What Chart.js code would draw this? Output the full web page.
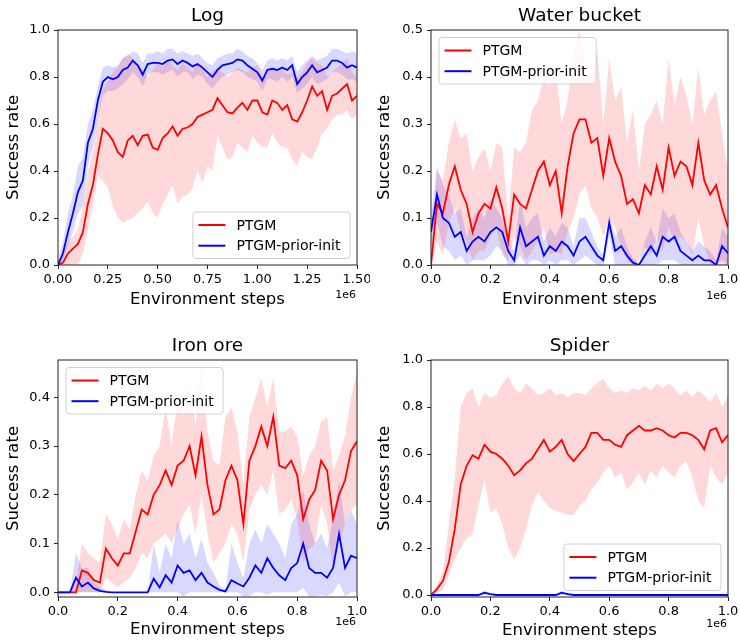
<!DOCTYPE html>
<html>
<head>
<meta charset="utf-8">
<script src="https://cdn.jsdelivr.net/npm/chart.js@4/dist/chart.umd.min.js"></script>
<style>
  html, body { margin: 0; padding: 0; background: #fff; }
  #figure { position: relative; width: 740px; height: 641px; overflow: hidden; }
  #figure canvas { position: absolute; }
</style>
</head>
<body>
<div id="figure">
  <canvas id="chart-log" width="370" height="320" style="left:0;top:0"></canvas>
  <canvas id="chart-water" width="370" height="320" style="left:370px;top:0"></canvas>
  <canvas id="chart-iron" width="370" height="321" style="left:0;top:320px"></canvas>
  <canvas id="chart-spider" width="370" height="321" style="left:370px;top:320px"></canvas>
</div>
<script>
// ---- data (x in units of 1e6 environment steps) ----
const LOG_STEPS = [0, 0.025, 0.05, 0.075, 0.1, 0.125, 0.15, 0.175, 0.2, 0.225,
  0.25, 0.275, 0.3, 0.325, 0.35, 0.375, 0.4, 0.425, 0.45, 0.475,
  0.5, 0.525, 0.55, 0.575, 0.6, 0.625, 0.65, 0.675, 0.7, 0.725,
  0.75, 0.775, 0.8, 0.825, 0.85, 0.875, 0.9, 0.925, 0.95, 0.975,
  1.0, 1.025, 1.05, 1.075, 1.1, 1.125, 1.15, 1.175, 1.2, 1.225,
  1.25, 1.275, 1.3, 1.325, 1.35, 1.375, 1.4, 1.425, 1.45, 1.475, 1.5];

const LOG_PTGM = [0, 0.01, 0.05, 0.07, 0.09, 0.14, 0.26, 0.34, 0.47, 0.58,
  0.56, 0.53, 0.48, 0.46, 0.53, 0.55, 0.51, 0.55, 0.555, 0.5,
  0.49, 0.54, 0.56, 0.59, 0.55, 0.58, 0.585, 0.6, 0.63, 0.64,
  0.65, 0.66, 0.71, 0.68, 0.65, 0.645, 0.67, 0.69, 0.66, 0.7,
  0.7, 0.65, 0.64, 0.7, 0.69, 0.66, 0.68, 0.62, 0.61, 0.65,
  0.7, 0.76, 0.72, 0.74, 0.66, 0.72, 0.73, 0.75, 0.77, 0.7, 0.72];
const LOG_PTGM_LO = [0, 0, 0, 0, 0, 0.05, 0.15, 0.25, 0.38, 0.36,
  0.33, 0.25, 0.2, 0.18, 0.19, 0.2, 0.22, 0.24, 0.27, 0.22,
  0.2, 0.26, 0.3, 0.34, 0.26, 0.29, 0.3, 0.33, 0.4, 0.35,
  0.42, 0.4, 0.55, 0.5, 0.45, 0.46, 0.52, 0.5, 0.48, 0.55,
  0.52, 0.5, 0.5, 0.56, 0.52, 0.5, 0.5, 0.45, 0.42, 0.48,
  0.46, 0.45, 0.5, 0.56, 0.58, 0.62, 0.64, 0.64, 0.66, 0.62, 0.64];
const LOG_PTGM_HI = [0.02, 0.05, 0.1, 0.12, 0.15, 0.25, 0.4, 0.48, 0.63, 0.75,
  0.78, 0.82, 0.84, 0.88, 0.9, 0.88, 0.85, 0.83, 0.8, 0.83,
  0.86, 0.84, 0.87, 0.85, 0.83, 0.86, 0.84, 0.82, 0.86, 0.84,
  0.8, 0.82, 0.84, 0.82, 0.8, 0.82, 0.84, 0.83, 0.82, 0.84,
  0.85, 0.8, 0.82, 0.84, 0.82, 0.83, 0.81, 0.82, 0.8, 0.82,
  0.86, 0.88, 0.86, 0.85, 0.8, 0.82, 0.84, 0.86, 0.88, 0.82, 0.8];
const LOG_PRIOR = [0, 0.05, 0.14, 0.22, 0.31, 0.36, 0.52, 0.58, 0.7, 0.78,
  0.8, 0.79, 0.8, 0.83, 0.84, 0.87, 0.85, 0.81, 0.855, 0.86,
  0.86, 0.855, 0.87, 0.875, 0.855, 0.87, 0.86, 0.845, 0.855, 0.84,
  0.82, 0.8, 0.83, 0.85, 0.855, 0.86, 0.875, 0.87, 0.85, 0.835,
  0.82, 0.785, 0.83, 0.835, 0.83, 0.84, 0.83, 0.85, 0.77, 0.8,
  0.82, 0.85, 0.82, 0.83, 0.84, 0.87, 0.87, 0.86, 0.84, 0.85, 0.84];
const LOG_PRIOR_LO = [0, 0.02, 0.08, 0.14, 0.22, 0.25, 0.42, 0.5, 0.62, 0.72,
  0.74, 0.74, 0.75, 0.77, 0.79, 0.82, 0.8, 0.76, 0.81, 0.82,
  0.82, 0.81, 0.82, 0.83, 0.8, 0.82, 0.82, 0.79, 0.81, 0.8,
  0.77, 0.75, 0.78, 0.8, 0.81, 0.82, 0.83, 0.82, 0.8, 0.79,
  0.78, 0.74, 0.79, 0.79, 0.78, 0.8, 0.78, 0.8, 0.73, 0.75,
  0.77, 0.8, 0.77, 0.78, 0.79, 0.82, 0.82, 0.81, 0.79, 0.79, 0.78];
const LOG_PRIOR_HI = [0.02, 0.1, 0.22, 0.3, 0.42, 0.46, 0.6, 0.66, 0.76, 0.84,
  0.85, 0.84, 0.85, 0.88, 0.89, 0.91, 0.9, 0.86, 0.9, 0.9,
  0.91, 0.9, 0.92, 0.92, 0.9, 0.91, 0.9, 0.89, 0.9, 0.88,
  0.86, 0.85, 0.88, 0.89, 0.9, 0.9, 0.92, 0.91, 0.89, 0.88,
  0.86, 0.83, 0.87, 0.88, 0.87, 0.88, 0.87, 0.89, 0.82, 0.85,
  0.87, 0.89, 0.87, 0.88, 0.89, 0.92, 0.92, 0.91, 0.9, 0.91, 0.9];

const STEPS = [0, 0.02, 0.04, 0.06, 0.08, 0.1, 0.12, 0.14, 0.16, 0.18,
  0.2, 0.22, 0.24, 0.26, 0.28, 0.3, 0.32, 0.34, 0.36, 0.38,
  0.4, 0.42, 0.44, 0.46, 0.48, 0.5, 0.52, 0.54, 0.56, 0.58,
  0.6, 0.62, 0.64, 0.66, 0.68, 0.7, 0.72, 0.74, 0.76, 0.78,
  0.8, 0.82, 0.84, 0.86, 0.88, 0.9, 0.92, 0.94, 0.96, 0.98, 1.0];

const WATER_PTGM = [0, 0.13, 0.11, 0.17, 0.21, 0.16, 0.13, 0.07, 0.11, 0.13,
  0.12, 0.165, 0.12, 0.05, 0.15, 0.13, 0.12, 0.16, 0.2, 0.22,
  0.17, 0.2, 0.11, 0.21, 0.28, 0.31, 0.31, 0.26, 0.27, 0.19,
  0.27, 0.22, 0.19, 0.13, 0.14, 0.11, 0.17, 0.15, 0.21, 0.16,
  0.25, 0.19, 0.22, 0.21, 0.17, 0.26, 0.18, 0.15, 0.17, 0.12, 0.08];
const WATER_PTGM_LO = [0, 0.05, 0.02, 0.09, 0.12, 0.07, 0.05, 0.01, 0.03, 0.03,
  0.06, 0.08, 0.02, 0.01, 0.06, 0.04, 0.01, 0.03, 0.05, 0.08,
  0.02, 0.03, 0.02, 0.07, 0.1, 0.15, 0.17, 0.12, 0.1, 0.06,
  0.1, 0.08, 0.04, 0.01, 0, 0.01, 0.04, 0.02, 0.06, 0.03,
  0.08, 0.05, 0.06, 0.05, 0.02, 0.1, 0.04, 0, 0, 0, 0];
const WATER_PTGM_HI = [0.02, 0.2, 0.18, 0.26, 0.31, 0.27, 0.28, 0.2, 0.23, 0.25,
  0.2, 0.26, 0.25, 0.1, 0.25, 0.24, 0.26, 0.33, 0.35, 0.4,
  0.38, 0.42, 0.3, 0.35, 0.45, 0.5, 0.43, 0.39, 0.46, 0.3,
  0.44, 0.35, 0.38, 0.26, 0.33, 0.2, 0.3, 0.32, 0.35, 0.3,
  0.44, 0.34, 0.4, 0.36, 0.3, 0.42, 0.32, 0.35, 0.37, 0.28, 0.2];
const WATER_PRIOR = [0.07, 0.15, 0.1, 0.09, 0.06, 0.07, 0.03, 0.05, 0.06, 0.05,
  0.07, 0.08, 0.07, 0.03, 0.01, 0.08, 0.04, 0.05, 0.06, 0.02,
  0.04, 0.03, 0.05, 0.04, 0.02, 0.05, 0.06, 0.04, 0.02, 0.01,
  0.09, 0.03, 0.04, 0.02, 0.005, 0, 0.02, 0.04, 0.02, 0.06,
  0.05, 0.06, 0.03, 0.02, 0.01, 0.02, 0.01, 0.01, 0, 0.04, 0.025];
const WATER_PRIOR_LO = [0.04, 0.09, 0.04, 0.03, 0.01, 0.02, 0, 0.01, 0.01, 0.01,
  0.02, 0.04, 0.03, 0, 0, 0.02, 0, 0.01, 0.01, 0,
  0.01, 0, 0.01, 0.01, 0, 0.01, 0.02, 0.01, 0, 0,
  0.06, 0, 0, 0, 0, 0, 0, 0, 0, 0.01,
  0.01, 0.01, 0, 0, 0, 0, 0, 0, 0, 0.01, 0];
const WATER_PRIOR_HI = [0.1, 0.21, 0.17, 0.15, 0.11, 0.12, 0.06, 0.1, 0.12, 0.1,
  0.14, 0.12, 0.1, 0.05, 0.03, 0.14, 0.08, 0.1, 0.11, 0.05,
  0.08, 0.06, 0.09, 0.08, 0.04, 0.1, 0.1, 0.07, 0.04, 0.02,
  0.11, 0.06, 0.08, 0.04, 0.015, 0.005, 0.05, 0.08, 0.05, 0.12,
  0.1, 0.11, 0.07, 0.05, 0.03, 0.05, 0.04, 0.03, 0.01, 0.08, 0.06];

const IRON_PTGM = [0, 0, 0, 0, 0.045, 0.04, 0.025, 0.02, 0.09, 0.07,
  0.055, 0.08, 0.08, 0.125, 0.17, 0.16, 0.2, 0.22, 0.25, 0.22,
  0.26, 0.27, 0.3, 0.24, 0.32, 0.22, 0.16, 0.17, 0.23, 0.26,
  0.23, 0.14, 0.27, 0.3, 0.34, 0.3, 0.36, 0.26, 0.255, 0.27,
  0.24, 0.15, 0.19, 0.21, 0.27, 0.25, 0.15, 0.2, 0.23, 0.29, 0.31];
const IRON_PTGM_LO = [0, 0, 0, 0, 0, 0, 0, 0, 0.03, 0.02,
  0.01, 0.02, 0.03, 0.05, 0.08, 0.07, 0.1, 0.11, 0.12, 0.1,
  0.13, 0.16, 0.18, 0.12, 0.2, 0.12, 0.06, 0.08, 0.1, 0.14,
  0.12, 0.06, 0.17, 0.2, 0.22, 0.2, 0.25, 0.16, 0.17, 0.19,
  0.15, 0.06, 0.09, 0.1, 0.18, 0.14, 0.05, 0.1, 0.14, 0.17, 0.18];
const IRON_PTGM_HI = [0, 0, 0, 0.02, 0.1, 0.08, 0.07, 0.06, 0.16, 0.14,
  0.11, 0.15, 0.13, 0.2, 0.25, 0.23, 0.28, 0.3, 0.38, 0.3,
  0.4, 0.36, 0.43, 0.34, 0.47, 0.33, 0.27, 0.26, 0.36, 0.38,
  0.33, 0.22, 0.36, 0.4, 0.44, 0.38, 0.44, 0.33, 0.33, 0.34,
  0.32, 0.24, 0.28, 0.3, 0.35, 0.36, 0.25, 0.28, 0.32, 0.4, 0.45];
const IRON_PRIOR = [0, 0, 0, 0.03, 0.012, 0.02, 0.008, 0.003, 0.001, 0,
  0, 0, 0, 0, 0, 0, 0.028, 0.01, 0.035, 0.02,
  0.055, 0.04, 0.045, 0.025, 0.04, 0.02, 0.012, 0.005, 0.002, 0.025,
  0.018, 0.012, 0.03, 0.055, 0.04, 0.07, 0.05, 0.035, 0.025, 0.05,
  0.06, 0.1, 0.05, 0.04, 0.04, 0.03, 0.05, 0.12, 0.05, 0.075, 0.07];
const IRON_PRIOR_LO = [0, 0, 0, 0, 0, 0, 0, 0, 0, 0,
  0, 0, 0, 0, 0, 0, 0, 0, 0, 0,
  0, -0.008, 0, 0, 0, 0, 0, 0, 0, 0,
  0, -0.008, -0.008, 0, 0, -0.005, 0, 0, 0, 0,
  0, 0.01, -0.008, -0.008, -0.005, -0.008, 0, 0.02, -0.008, 0, 0];
const IRON_PRIOR_HI = [0, 0, 0, 0.08, 0.05, 0.05, 0.02, 0.01, 0.005, 0,
  0, 0, 0, 0, 0, 0, 0.1, 0.04, 0.1, 0.07,
  0.15, 0.1, 0.12, 0.07, 0.11, 0.06, 0.04, 0.015, 0.005, 0.1,
  0.06, 0.03, 0.1, 0.13, 0.1, 0.14, 0.12, 0.1, 0.07, 0.14,
  0.16, 0.21, 0.14, 0.1, 0.12, 0.09, 0.15, 0.23, 0.14, 0.17, 0.14];

const SPIDER_PTGM = [0, 0.025, 0.06, 0.14, 0.28, 0.47, 0.55, 0.595, 0.58, 0.64,
  0.61, 0.6, 0.58, 0.55, 0.51, 0.53, 0.56, 0.58, 0.62, 0.66,
  0.61, 0.63, 0.66, 0.6, 0.57, 0.6, 0.63, 0.69, 0.69, 0.66,
  0.66, 0.64, 0.63, 0.68, 0.7, 0.72, 0.7, 0.7, 0.71, 0.7,
  0.68, 0.67, 0.69, 0.69, 0.68, 0.66, 0.62, 0.7, 0.71, 0.65, 0.68];
const SPIDER_PTGM_LO = [0, 0.01, 0.02, 0.08, 0.15, 0.2, 0.24, 0.26, 0.38, 0.49,
  0.35, 0.37, 0.3, 0.2, 0.15, 0.2, 0.28, 0.38, 0.44, 0.4,
  0.37, 0.36, 0.35, 0.34, 0.34, 0.38, 0.4, 0.45, 0.48, 0.52,
  0.55, 0.5, 0.52, 0.45, 0.48, 0.52, 0.47, 0.53, 0.5, 0.55,
  0.52, 0.5, 0.55, 0.57, 0.5, 0.4, 0.37, 0.55, 0.5, 0.47, 0.52];
const SPIDER_PTGM_HI = [0, 0.04, 0.1, 0.3, 0.5, 0.8, 0.86, 0.88, 0.8, 0.86,
  0.84, 0.85, 0.9, 0.93, 0.88, 0.86, 0.9, 0.88, 0.85, 0.86,
  0.88, 0.85, 0.86, 0.84, 0.86, 0.86, 0.85, 0.88, 0.9, 0.92,
  0.88, 0.86, 0.87, 0.86, 0.88, 0.87, 0.89, 0.87, 0.9, 0.88,
  0.9, 0.88, 0.85, 0.87, 0.84, 0.87, 0.85, 0.82, 0.86, 0.8, 0.85];
const SPIDER_PRIOR = [0, 0, 0, 0, 0, 0, 0, 0, 0, 0.01,
  0.004, 0, 0, 0, 0, 0, 0, 0, 0, 0,
  0, 0, 0.01, 0.004, 0, 0, 0, 0, 0, 0,
  0, 0, 0, 0, 0, 0, 0, 0, 0, 0,
  0, 0, 0, 0, 0, 0, 0, 0, 0, 0, 0];
const SPIDER_PRIOR_LO = [0, 0, 0, 0, 0, 0, 0, 0, 0, 0,
  0, 0, 0, 0, 0, 0, 0, 0, 0, 0,
  0, 0, 0, 0, 0, 0, 0, 0, 0, 0,
  0, 0, 0, 0, 0, 0, 0, 0, 0, 0,
  0, 0, 0, 0, 0, 0, 0, 0, 0, 0, 0];
const SPIDER_PRIOR_HI = [0, 0, 0, 0, 0, 0, 0, 0, 0.003, 0.018,
  0.008, 0, 0, 0, 0, 0, 0, 0, 0, 0,
  0, 0, 0.018, 0.008, 0, 0, 0, 0, 0, 0,
  0, 0, 0, 0, 0, 0, 0, 0, 0, 0,
  0, 0, 0, 0, 0, 0, 0, 0, 0, 0, 0];

// tick labels
const LOG_X_TICKS = [0, 0.25, 0.5, 0.75, 1.0, 1.25, 1.5];
const UNIT_X_TICKS = [0, 0.2, 0.4, 0.6, 0.8, 1.0];
const RATE_Y_TICKS = [0, 0.2, 0.4, 0.6, 0.8, 1.0];
const WATER_Y_TICKS = [0, 0.1, 0.2, 0.3, 0.4, 0.5];
const IRON_Y_TICKS = [0, 0.1, 0.2, 0.3, 0.4];

const SERIES_NAMES = ['PTGM', 'PTGM-prior-init'];

Chart.defaults.font.family = "'DejaVu Sans', sans-serif";
Chart.defaults.color = '#000';

const RED = '#ff0000';
const BLUE = '#0000ff';
const RED_BAND = 'rgba(255, 0, 0, 0.15)';
const BLUE_BAND = 'rgba(0, 0, 255, 0.15)';

// frame around the axes, matplotlib-like legend box and the "1e6" offset text
const panelOverlay = {
    id: 'panelOverlay',
    afterDraw(chart, args, opts) {
        const ctx = chart.ctx;
        const a = chart.chartArea;
        ctx.save();

        ctx.strokeStyle = '#222';
        ctx.lineWidth = 1;
        ctx.strokeRect(a.left, a.top, a.right - a.left, a.bottom - a.top);

        // legend
        const entries = chart.data.datasets.filter(ds => ds.label);
        ctx.font = "14px 'DejaVu Sans'";
        const textW = Math.max(...entries.map(e => ctx.measureText(e.label).width));
        const w = 44 + textW + 9;
        const h = 46.5;
        let x, y;
        if (opts.legendCorner === 'lower right') {
            x = a.right - 7.5 - w;
            y = a.bottom - 7 - h;
        } else {
            x = a.left + 7.5;
            y = a.top + 7;
        }
        ctx.beginPath();
        ctx.roundRect(x + 0.5, y + 0.5, w, h, 3);
        ctx.fillStyle = 'rgba(255, 255, 255, 0.8)';
        ctx.fill();
        ctx.strokeStyle = '#d0d0d0';
        ctx.stroke();

        ctx.textAlign = 'left';
        ctx.textBaseline = 'middle';
        entries.forEach((e, i) => {
            const rowY = y + 13.5 + i * 20.7;
            ctx.strokeStyle = e.borderColor;
            ctx.lineWidth = 2;
            ctx.beginPath();
            ctx.moveTo(x + 6, rowY);
            ctx.lineTo(x + 33, rowY);
            ctx.stroke();
            ctx.fillStyle = '#000';
            ctx.fillText(e.label, x + 44, rowY + 1);
        });

        // scientific offset of the x axis
        ctx.font = "11px 'DejaVu Sans'";
        ctx.textAlign = 'right';
        ctx.fillStyle = '#000';
        ctx.fillText('1e6', a.right - 1, a.bottom + opts.offsetY);
        ctx.restore();
    }
};

function makePanel(canvasId, p) {
    const canvas = document.getElementById(canvasId);
    const W = canvas.width;
    const H = canvas.height;
    const toPoints = ys => p.steps.map((x, i) => ({ x: x, y: ys[i] }));

    const bandLo = ys => ({
        data: toPoints(ys), borderWidth: 0, pointRadius: 0, fill: false, order: 3
    });
    const bandHi = (ys, color) => ({
        data: toPoints(ys), borderWidth: 0, pointRadius: 0, fill: '-1',
        backgroundColor: color, order: 3
    });
    const meanLine = (ys, color, label, order) => ({
        label: label, data: toPoints(ys), borderColor: color, backgroundColor: color,
        borderWidth: 1.8, pointRadius: 0, tension: 0, fill: false, order: order
    });

    const titleLine = 18.5 * 1.2;

    return new Chart(canvas.getContext('2d'), {
        type: 'line',
        data: {
            datasets: [
                bandLo(p.redLo),
                bandHi(p.redHi, RED_BAND),
                bandLo(p.blueLo),
                bandHi(p.blueHi, BLUE_BAND),
                meanLine(p.red, RED, SERIES_NAMES[0], 2),
                meanLine(p.blue, BLUE, SERIES_NAMES[1], 1)
            ]
        },
        options: {
            responsive: false,
            animation: false,
            devicePixelRatio: 1,
            events: [],
            layout: { padding: { left: 0, top: 0, bottom: 0, right: W - p.area.right } },
            plugins: {
                legend: { display: false },
                tooltip: { enabled: false },
                title: {
                    display: true,
                    text: p.title,
                    fullSize: false,
                    color: '#000',
                    font: { size: 18.5, weight: 'normal', lineHeight: 1.2 },
                    padding: { top: p.titleTop, bottom: p.area.top - p.titleTop - titleLine }
                },
                panelOverlay: { legendCorner: p.legendCorner, offsetY: p.offsetY }
            },
            scales: {
                x: {
                    type: 'linear',
                    min: p.xMin,
                    max: p.xMax,
                    afterBuildTicks: ax => { ax.ticks = p.xTicks.map(v => ({ value: v })); },
                    afterFit: ax => {
                        ax.height = H - p.area.bottom;
                        ax.paddingLeft = 0;
                        ax.paddingRight = 0;
                    },
                    ticks: {
                        callback: v => v.toFixed(p.xDigits),
                        autoSkip: false, maxRotation: 0, padding: 3,
                        font: { size: 13 }, color: '#000'
                    },
                    grid: { drawOnChartArea: false, tickLength: 4, color: '#222' },
                    border: { display: false },
                    title: {
                        display: true, text: 'Environment steps', color: '#000',
                        font: { size: 16.5, lineHeight: 1.2 },
                        padding: { top: 0, bottom: p.xTitleBottom }
                    }
                },
                y: {
                    type: 'linear',
                    min: p.yMin,
                    max: p.yMax,
                    afterBuildTicks: ax => { ax.ticks = p.yTicks.map(v => ({ value: v })); },
                    afterFit: ax => {
                        ax.width = p.area.left;
                        ax.paddingTop = 0;
                        ax.paddingBottom = 0;
                    },
                    ticks: {
                        callback: v => v.toFixed(1),
                        padding: 4, font: { size: 13 }, color: '#000'
                    },
                    grid: { drawOnChartArea: false, tickLength: 4, color: '#222' },
                    border: { display: false },
                    title: {
                        display: true, text: 'Success rate', color: '#000',
                        font: { size: 16.5, lineHeight: 1.2 },
                        padding: { top: p.yTitleTop, bottom: 0 }
                    }
                }
            }
        },
        plugins: [panelOverlay]
    });
}

makePanel('chart-log', {
    title: 'Log', steps: LOG_STEPS,
    red: LOG_PTGM, redLo: LOG_PTGM_LO, redHi: LOG_PTGM_HI,
    blue: LOG_PRIOR, blueLo: LOG_PRIOR_LO, blueHi: LOG_PRIOR_HI,
    xMin: 0, xMax: 1.5, xTicks: LOG_X_TICKS, xDigits: 2,
    yMin: 0, yMax: 1.0, yTicks: RATE_Y_TICKS,
    area: { left: 58, right: 357, top: 30, bottom: 265 },
    titleTop: 5, xTitleBottom: 10.5, yTitleTop: 4.3,
    legendCorner: 'lower right', offsetY: 30
});

makePanel('chart-water', {
    title: 'Water bucket', steps: STEPS,
    red: WATER_PTGM, redLo: WATER_PTGM_LO, redHi: WATER_PTGM_HI,
    blue: WATER_PRIOR, blueLo: WATER_PRIOR_LO, blueHi: WATER_PRIOR_HI,
    xMin: 0, xMax: 1.0, xTicks: UNIT_X_TICKS, xDigits: 1,
    yMin: 0, yMax: 0.5, yTicks: WATER_Y_TICKS,
    area: { left: 61, right: 358, top: 30, bottom: 265 },
    titleTop: 5, xTitleBottom: 10.5, yTitleTop: 5,
    legendCorner: 'upper left', offsetY: 31
});

makePanel('chart-iron', {
    title: 'Iron ore', steps: STEPS,
    red: IRON_PTGM, redLo: IRON_PTGM_LO, redHi: IRON_PTGM_HI,
    blue: IRON_PRIOR, blueLo: IRON_PRIOR_LO, blueHi: IRON_PRIOR_HI,
    xMin: 0, xMax: 1.0, xTicks: UNIT_X_TICKS, xDigits: 1,
    yMin: -0.0096, yMax: 0.4767, yTicks: IRON_Y_TICKS,
    area: { left: 58, right: 357, top: 40, bottom: 277 },
    titleTop: 15.5, xTitleBottom: 1, yTitleTop: 4,
    legendCorner: 'upper left', offsetY: 25
});

makePanel('chart-spider', {
    title: 'Spider', steps: STEPS,
    red: SPIDER_PTGM, redLo: SPIDER_PTGM_LO, redHi: SPIDER_PTGM_HI,
    blue: SPIDER_PRIOR, blueLo: SPIDER_PRIOR_LO, blueHi: SPIDER_PRIOR_HI,
    xMin: 0, xMax: 1.0, xTicks: UNIT_X_TICKS, xDigits: 1,
    yMin: -0.0085, yMax: 1.0, yTicks: RATE_Y_TICKS,
    area: { left: 61, right: 358, top: 40, bottom: 277 },
    titleTop: 15.5, xTitleBottom: 0.5, yTitleTop: 5,
    legendCorner: 'lower right', offsetY: 27
});
</script>
</body>
</html>
